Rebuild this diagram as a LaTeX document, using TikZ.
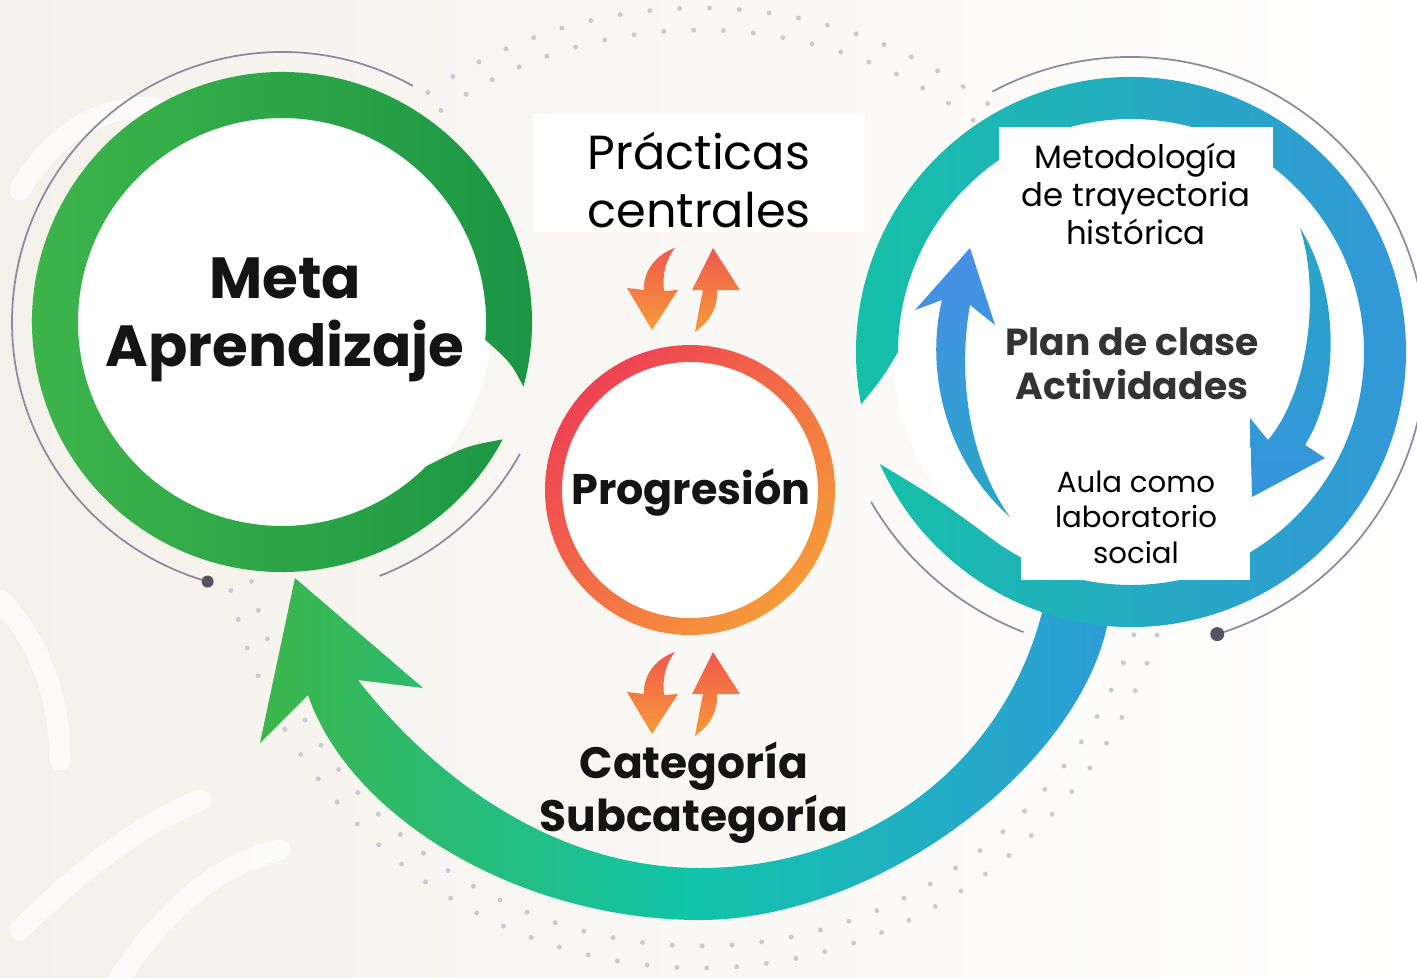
\documentclass[tikz,border=0pt]{standalone}
\usepackage{fontspec}
\setmainfont{Poppins}
\usetikzlibrary{positioning}

\definecolor{bgbeige}{HTML}{F4F1EA}
\definecolor{metagreen}{HTML}{40B74B}
\definecolor{metagreendark}{HTML}{1A9444}
\definecolor{ringteal}{HTML}{14C2A6}
\definecolor{ringblue}{HTML}{3594DC}
\definecolor{arrowblue}{HTML}{4A8EE8}
\definecolor{arcgreen}{HTML}{3CB54A}
\definecolor{arcteal}{HTML}{12C4A8}
\definecolor{arcblue}{HTML}{2D9DD8}
\definecolor{progred}{HTML}{EE4253}
\definecolor{progorange}{HTML}{F69B39}
\definecolor{thinline}{HTML}{8A8AA2}
\definecolor{dotgray}{HTML}{C9C9CF}

\begin{document}
\begin{tikzpicture}[
    x=0.01cm, y=-0.01cm,
    thinarc/.style={draw=thinline, line width=0.5pt},
    dotring/.style={draw=dotgray, line width=1.4pt, line cap=round, dash pattern=on 0pt off 8.5pt},
    whitebox/.style={rectangle, fill=white, inner sep=0pt},
    boldlabel/.style={font=\bfseries, text=black!92, align=center, inner sep=0pt},
    plainlabel/.style={text=black, align=center, inner sep=0pt},
    orangearrow/.style={top color=progred!75!progorange, bottom color=progorange}
  ]
  \useasboundingbox (0,0) rectangle (1417,978);
  \shade[left color=bgbeige, right color=white] (0,0) rectangle (1417,978);
  \begin{scope}[white, opacity=0.75, line width=6pt, line cap=round]
    \draw (20,190) .. controls (60,120) and (120,100) .. (170,110);
    \draw (0,600) .. controls (40,640) and (60,700) .. (60,760);
    \draw (20,930) .. controls (90,860) and (150,820) .. (200,800);
    \draw (120,978) .. controls (170,900) and (230,860) .. (280,850);
  \end{scope}

  \coordinate (gc) at (282,322);
  \coordinate (rc) at (1131,352);
  \coordinate (pc) at (690,490);
  \coordinate (dc) at (700,488);

  \draw[dotring] (dc) circle[radius=480];
  \draw[dotring] (dc) circle[radius=458];

  \draw[thinarc] ([shift={(gc)}]-61:270) arc[start angle=-61, end angle=-254, radius=270];
  \draw[thinarc] ([shift={(gc)}]29:272) arc[start angle=29, end angle=69, radius=272];
  \fill[thinline!60!black] ([shift={(gc)}]106:270) circle[radius=6];
  \draw[thinarc] ([shift={(rc)}]-118:295) arc[start angle=-118, end angle=73, radius=295];
  \draw[thinarc] ([shift={(rc)}]111:300) arc[start angle=111, end angle=150, radius=300];
  \fill[thinline!60!black] ([shift={(rc)}]73:295) circle[radius=7];

  \fill[white] (gc) circle[radius=210];
  \fill[white] (rc) circle[radius=238];
  \fill[white] (pc) circle[radius=135];

  \shade[left color=arcgreen, right color=arcblue, middle color=arcteal]
    (295,578) -- (423,688) -- (358,680)
    .. controls (420,760) and (540,868) .. (700,868)
    .. controls (870,868) and (1010,760) .. (1045,600)
    -- (1110,610)
    .. controls (1090,760) and (880,920) .. (700,920)
    .. controls (520,920) and (350,818) .. (308,695)
    -- (260,743) -- cycle;

  \shade[left color=metagreen, right color=metagreendark]
    ([shift={(gc)}]28:250) arc[start angle=28, end angle=375, radius=250]
    .. controls ([shift={(gc)}]370:232) .. ([shift={(gc)}]365:204)
    arc[start angle=365, end angle=45, radius=204]
    .. controls ([shift={(gc)}]34:222) .. ([shift={(gc)}]28:250) -- cycle;

  \shade[left color=ringteal, right color=ringblue]
    ([shift={(rc)}]156:275) arc[start angle=156, end angle=-191, radius=275]
    .. controls ([shift={(rc)}]-186:250) .. ([shift={(rc)}]-180:233)
    arc[start angle=-180, end angle=125, radius=233]
    .. controls ([shift={(rc)}]143:243) .. ([shift={(rc)}]156:275) -- cycle;

  \shade[top color=arrowblue, bottom color=ringblue!60!ringteal]
    (970,248) -- (995,325) -- (970,305)
    .. controls (960,360) and (962,450) .. (1010,517)
    .. controls (945,460) and (925,370) .. (942,300)
    -- (915,310) -- cycle;
  \shade[top color=ringteal!40!ringblue, bottom color=ringblue]
    (1300,228) .. controls (1340,290) and (1340,390) .. (1305,445)
    -- (1325,458) -- (1252,497) -- (1250,418) -- (1268,440)
    .. controls (1310,390) and (1320,290) .. (1300,228) -- cycle;

  \shade[top color=progred, bottom color=progorange, shading angle=45, even odd rule]
    (pc) circle[radius=145] (pc) circle[radius=128];

  \foreach \dy in {0,404} {
    \begin{scope}[shift={(0,\dy)}]
      \shade[orangearrow] (675,248) .. controls (655,255) and (643,272) .. (644,290)
        -- (627,288) -- (652,330) -- (678,290) -- (664,291)
        .. controls (662,272) and (667,258) .. (675,248) -- cycle;
      \shade[orangearrow] (695,332) .. controls (712,320) and (718,305) .. (717,290)
        -- (740,290) -- (713,248) -- (692,290) -- (703,290)
        .. controls (700,305) and (697,320) .. (695,332) -- cycle;
    \end{scope}
  }

  \node[whitebox, minimum width=3.32cm, minimum height=1.17cm] (practicasbox) at (699,173) {};
  \node[whitebox, minimum width=2.74cm, minimum height=1.28cm] (metodologiabox) at (1136,191) {};
  \node[whitebox, minimum width=2.29cm, minimum height=1.62cm] (aulabox) at (1135.5,499) {};

  \node[plainlabel, font=\fontsize{13.6}{16.5}\selectfont] (practicas) at (699,180) {Prácticas\\centrales};
  \node[boldlabel, font=\bfseries\fontsize{16.5}{19.3}\selectfont] (meta) at (285,320) {Meta\\Aprendizaje};
  \node[boldlabel, font=\bfseries\fontsize{12.2}{13}\selectfont] (progresion) at (691,492) {Progresión};
  \node[boldlabel, text=black!80, font=\bfseries\fontsize{10.7}{12.5}\selectfont] (plan) at (1132,364) {Plan de clase\\Actividades};
  \node[boldlabel, font=\bfseries\fontsize{12.5}{15}\selectfont] (categoria) at (694,793) {Categoría\\Subcategoría};
  \node[plainlabel, font=\fontsize{9.2}{10.8}\selectfont] (metodologia) at (1136,194) {Metodología\\de trayectoria\\histórica};
  \node[plainlabel, font=\fontsize{8.3}{10.1}\selectfont] (aula) at (1136,517) {Aula como\\laboratorio\\social};
\end{tikzpicture}
\end{document}
